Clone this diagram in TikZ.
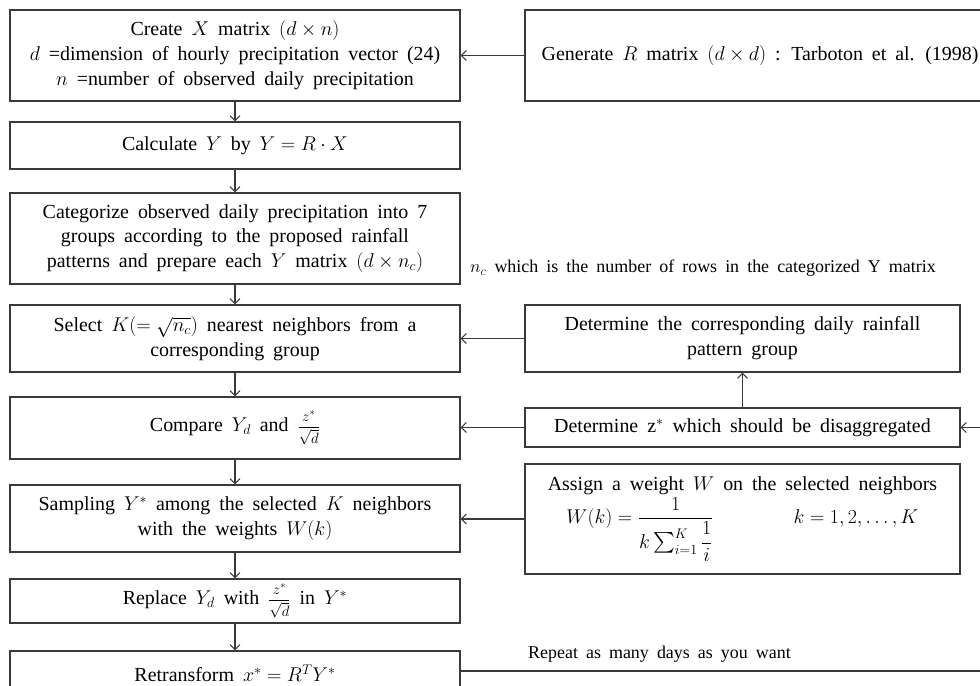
\RequirePackage{fix-cm}
\documentclass[tikz,border=0pt]{standalone}
\usepackage{amsmath}
\usepackage{fontspec}
\setmainfont{Liberation Serif}[WordSpace=1.8]
\usetikzlibrary{arrows.meta}
\definecolor{ln}{HTML}{3A3A3A}
\newcommand{\zfrac}{{\fontsize{15}{15}\selectfont$\dfrac{z^*}{\sqrt{d}}$}}
\begin{document}
\begin{tikzpicture}[x=1bp,y={(0bp,-1bp)},
  box/.style={draw=ln,line width=1.1bp,align=center,inner sep=2bp,font=\fontsize{20}{25}\selectfont},
  lbox/.style={box,minimum width=450bp},
  rbox/.style={box,minimum width=435bp},
  arr/.style={draw=ln,line width=1.1bp,-{Straight Barb[length=5bp,width=10bp]}},
  plain/.style={draw=ln,line width=1.1bp},
  note/.style={font=\fontsize{18}{20}\selectfont,anchor=west,inner sep=0pt}]
\useasboundingbox (0,0) rectangle (980,686);
\clip (0,0) rectangle (980,686);
% left column
\node[lbox,minimum height=91bp] (b1) at (235,55.5) {Create $X$ matrix $(d\times n)$\\ $d$ =dimension of hourly precipitation vector (24)\\ $n$ =number of observed daily precipitation};
\node[lbox,minimum height=47bp] (b2) at (235,145.5) {Calculate $Y$ by $Y=R\cdot X$};
\node[lbox,minimum height=91bp] (b3) at (235,238.5) {Categorize observed daily precipitation into 7\\ groups according to the proposed rainfall\\ patterns and prepare each $Y$ matrix $(d\times n_c)$};
\node[lbox,minimum height=67bp] (b4) at (235,338.5) {Select $K(=\sqrt{n_c})$ nearest neighbors from a\\ corresponding group};
\node[lbox,minimum height=62bp] (b5) at (235,428) {Compare $Y_d$ and \zfrac};
\node[lbox,minimum height=67bp] (b6) at (235,518.5) {Sampling $Y^*$ among the selected $K$ neighbors\\ with the weights $W(k)$};
\node[lbox,minimum height=44bp] (b7) at (235,601) {Replace $Y_d$ with \zfrac\ in $Y^*$};
\node[lbox,minimum height=44bp] (b8) at (235,673) {Retransform $x^*=R^TY^*$};
% right column
\node[box,minimum width=470bp,minimum height=91bp] (r1) at (760,55.5) {Generate $R$ matrix $(d\times d)$ : Tarboton et al. (1998)};
\node[rbox,minimum height=67bp] (r2) at (742.5,338.5) {Determine the corresponding daily rainfall\\ pattern group};
\node[rbox,minimum height=39bp] (r3) at (742.5,427.5) {Determine $\mathrm{z}^*$ which should be disaggregated};
\node[rbox,minimum height=110bp] (r4) at (742.5,519) {Assign a weight $W$ on the selected neighbors\\[2bp] $W(k)=\dfrac{1}{k\sum_{i=1}^{K}\dfrac{1}{i}}$\hspace{80bp}$k=1,2,\dots,K$};
% notes
\node[note] (nc) at (470,268) {$n_c$ which is the number of rows in the categorized Y matrix};
\node[note] (rep) at (528,654) {Repeat as many days as you want};
% vertical flow
\draw[arr] (b1) -- (b2);
\draw[arr] (b2) -- (b3);
\draw[arr] (b3) -- (b4);
\draw[arr] (b4) -- (b5);
\draw[arr] (b5) -- (b6);
\draw[arr] (b6) -- (b7);
\draw[arr] (b7) -- (b8);
% horizontal
\draw[arr] (r1.west) -- (b1.east);
\draw[arr] (r2.west) -- (b4.east);
\draw[arr] (r3.west) -- (b5.east |- r3.west);
\draw[arr] (r3) -- (r2);
\draw[arr] (r4.west) -- (b6.east |- r4.west);
\coordinate (zin) at (995,427.5);
\draw[arr] (zin) -- (r3.east);
\coordinate (rend) at (995,671);
\draw[plain] (b8.east |- rend) -- (rend);
\end{tikzpicture}
\end{document}
